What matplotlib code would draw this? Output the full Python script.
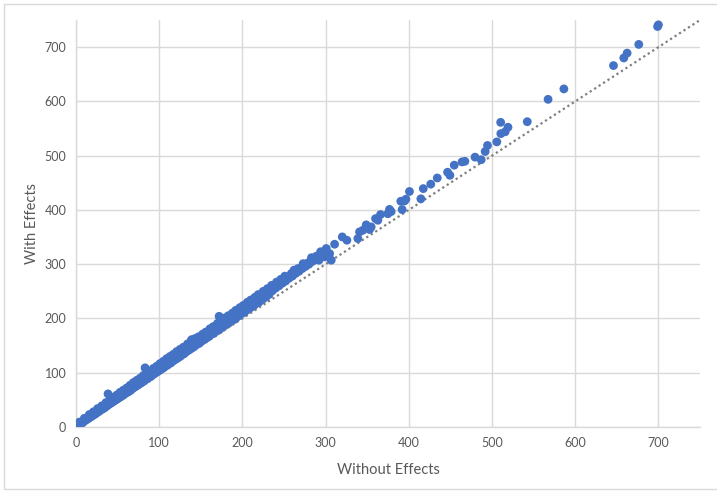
import matplotlib.pyplot as plt
from matplotlib.patches import Rectangle

# Values
# dense lower part of the band
band_x = [
    0, 1, 2, 3, 5, 6, 8, 9, 11, 12, 14, 15, 17, 18, 20, 22, 23, 25, 27, 28,
    30, 32, 34, 35, 37, 38, 40, 42, 44, 46, 48, 50, 52, 54, 56, 58, 60, 62, 64, 66,
    68, 70, 72, 74, 76, 78, 80, 82, 84, 86, 88, 90, 92, 94, 96, 98, 100, 102, 104, 106,
    108, 110, 112, 114, 116, 118, 120, 122, 124, 126, 128, 130, 133, 136, 139, 142, 145, 148, 151, 154,
    157, 160, 163, 166, 169, 172, 175, 178, 181, 184, 187, 190, 193, 196, 199, 202, 205, 208, 211, 214,
    217, 220, 224, 228, 232, 236, 240, 244, 248, 252, 256, 260, 264, 268, 272, 276, 280, 284, 288, 292,
    296,
]
band_y = [
    0, 1, 2, 4, 5, 7, 8, 10, 12, 13, 15, 16, 18, 19, 21, 23, 24, 26, 29, 29,
    32, 33, 36, 36, 39, 40, 42, 44, 46, 48, 50, 52, 54, 56, 58, 60, 63, 64, 66, 68,
    71, 73, 75, 77, 79, 81, 83, 85, 88, 89, 92, 93, 96, 98, 100, 102, 104, 106, 108, 110,
    113, 114, 117, 118, 121, 123, 125, 127, 129, 131, 134, 135, 139, 142, 145, 148, 152, 154, 158, 161,
    164, 167, 171, 173, 177, 179, 183, 186, 190, 192, 196, 198, 202, 205, 209, 211, 215, 218, 221, 224,
    228, 230, 235, 239, 244, 251, 256, 260, 265, 269, 274, 278, 283, 287, 292, 296, 300, 305, 309, 313,
    317,
]
# upper edge of the band
upper_x = [
    4, 10, 16, 21, 26, 31, 36, 41, 45, 49, 53, 57, 61, 65, 69, 73, 77, 81, 85, 89,
    93, 97, 101, 105, 109, 113, 117, 121, 125, 129, 134, 138, 143, 147, 152, 156, 161, 165, 170, 174,
    179, 183, 188, 192, 197, 201, 206, 210, 215, 219, 225, 230, 235, 241, 246, 251, 262,
    273, 283, 294,
]
upper_y = [
    9, 16, 23, 28, 34, 39, 45, 50, 55, 59, 64, 68, 72, 77, 82, 86, 90, 95, 99, 103,
    108, 112, 117, 121, 126, 130, 134, 139, 143, 147, 153, 158, 163, 166, 171, 175, 181, 185, 191, 195,
    201, 205, 210, 215, 220, 224, 230, 234, 239, 244, 250, 255, 261, 267, 272, 278, 289,
    301, 312, 323,
]
# sparser points and outliers
sparse_x = [
    38.5, 83, 172, 139,
    240.8, 248.8, 250.8, 258.8, 266.8, 272.8, 278.8, 288.8, 292, 298.8,
    300.8, 304.8, 306.8, 310.8, 320, 325.6, 338.8, 340.8, 344.8, 348.8,
    352.8, 354.8, 360, 362.8, 366, 374.8, 376.8, 378.8, 390.4, 392,
    394.8, 396.5, 400.8, 414.5, 417.4, 426.4, 434.2, 446.6, 449.4, 454.6,
    464, 467.4, 479.6, 487, 491.8, 494.6, 505.8, 510.6, 515.8, 519.2,
    510.4, 542.4, 567.4, 586.4, 646, 658.4, 662.4, 676.4, 699, 700,
]
sparse_y = [
    61, 109, 204, 161,
    261.4, 267.4, 273.7, 282.9, 292, 298.2, 302.4, 314.7, 307.4, 313.5,
    328.9, 319.6, 307.4, 336.8, 350.3, 344.2, 347.3, 359.5, 362.6, 372.5,
    364, 368.7, 384, 381, 391.5, 393, 401, 397, 416, 400.7,
    416.5, 419.8, 434, 420.5, 439.3, 447.5, 458.9, 469.5, 463.8, 482.5,
    488.5, 489.6, 497.3, 492.5, 507.7, 518.8, 525.4, 540.6, 544, 552.4,
    561.4, 562.6, 603.8, 623, 666, 680, 689, 705, 738, 741,
]

without_effects = band_x + upper_x + sparse_x
with_effects = band_y + upper_y + sparse_y

ticks = [0, 100, 200, 300, 400, 500, 600, 700]

fig = plt.figure(figsize=(7.17, 4.91), dpi=100)
fig.patches.append(Rectangle((4 / 717, 2 / 491), 1.0, 485 / 491, transform=fig.transFigure,
                             fill=False, edgecolor='#D9D9D9', linewidth=1))
ax = fig.add_axes([76 / 717, 64 / 491, 624 / 717, 407 / 491])

# identity reference line
ax.plot([0, 750], [0, 750], color='#7F7F7F', linewidth=1.6, linestyle=(0, (1, 1.4)), zorder=2)
ax.scatter(without_effects, with_effects, s=40, color='#4472C4', edgecolors='none', zorder=3)

ax.set_xlim(0, 750)
ax.set_ylim(0, 750)
ax.set_xticks(ticks)
ax.set_yticks(ticks)
ax.grid(True, color='#D9D9D9', linewidth=1)
ax.set_axisbelow(True)
for side in ['top', 'right']:
    ax.spines[side].set_visible(False)
for side in ['left', 'bottom']:
    ax.spines[side].set_color('#D9D9D9')
    ax.spines[side].set_linewidth(1)
ax.tick_params(length=0, labelsize=9, labelcolor='#595959', pad=7)
for lbl in ax.get_xticklabels() + ax.get_yticklabels():
    lbl.set_family('Lato')

ax.set_xlabel('Without Effects', fontsize=10.5, color='#595959', family='Lato', labelpad=10)
ax.set_ylabel('With Effects', fontsize=10.5, color='#595959', family='Lato', labelpad=4)

fig.savefig('out.png', dpi=100)
